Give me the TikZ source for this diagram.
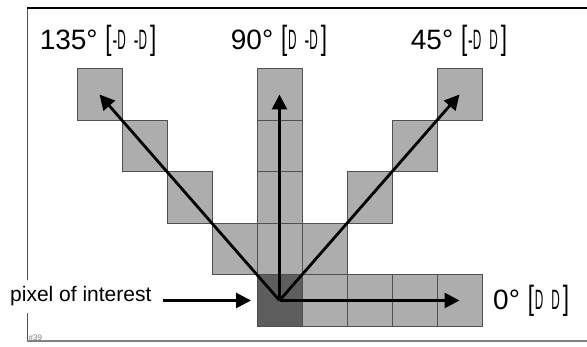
\documentclass[tikz,border=0pt]{standalone}
\usepackage{fontspec}
\setmainfont{Liberation Sans}
\usepackage{graphicx}
\usetikzlibrary{arrows.meta,positioning}

\definecolor{cellgray}{HTML}{ADADAD}
\definecolor{poigray}{HTML}{5E5E5E}
\definecolor{edgegray}{HTML}{505050}

% narrow offset letters of the titles
\newcommand{\dd}{\scalebox{0.42}[1]{D}}
\newcommand{\nd}{\scalebox{0.5}[1]{-}\dd}
\newcommand{\dpair}[2]{\scalebox{0.8}[1.2]{[}\kern1pt#1\kern8pt#2\kern3pt\scalebox{0.8}[1.2]{]}}

\begin{document}
\begin{tikzpicture}[x=1pt,y=1pt,
    cell/.style={draw=edgegray, fill=cellgray, line width=0.8pt,
        minimum width=45pt, minimum height=51.5pt, inner sep=0pt, outer sep=0pt},
    dirarrow/.style={line width=2.8pt, -{Triangle[length=15pt,width=15pt]}},
    angle/.style={font=\fontsize{28}{32}\selectfont, inner sep=0pt}]
    \useasboundingbox (0,0) rectangle (587,347);

    % cadre
    \draw[edgegray, line width=1pt] (27,6) -- (27,339);
    \draw[line width=1.5pt] (27,339) -- (587,339);
    \draw[gray, line width=1.4pt] (27,6) -- (587,6);

    % pixel of interest and the four directions
    \node[cell, fill=poigray] (poi) at (279.5,46.5) {};
    \foreach \a/\dx/\dy in {0/1/0, 90/0/1, 45/1/1, 135/-1/1} {
        \foreach \k in {1,...,4}
            \node[cell] (d\a-\k) at ({279.5+45*\k*\dx},{46.5+51.5*\k*\dy}) {};
    }

    % arrows
    \foreach \a in {0,90,45,135}
        \draw[dirarrow] (poi.center) -- (d\a-4.center);

    % titles
    \node[angle, anchor=base] (t135) at (98,297) {135° \dpair{\nd}{\nd}};
    \node[angle, anchor=base] (t90) at (279,297) {90° \dpair{\dd}{\nd}};
    \node[angle, anchor=base] (t45) at (459,297) {45° \dpair{\nd}{\dd}};
    \node[angle, anchor=west, right=11pt of d0-4] (t0) {0° \dpair{\dd}{\dd}};

    % label
    \node[anchor=base west, fill=white, inner xsep=2pt, inner ysep=7pt,
        font=\fontsize{21}{24}\selectfont] (poi-label) at (8,45) {pixel of interest};
    \draw[dirarrow, shorten <=9pt, shorten >=6pt] (poi-label.east |- poi.west) -- (poi.west);

    \node[anchor=south west, inner sep=0.5pt, text=gray, font=\fontsize{8}{9}\selectfont]
        (tag) at (28,6) {\#39};
\end{tikzpicture}
\end{document}
